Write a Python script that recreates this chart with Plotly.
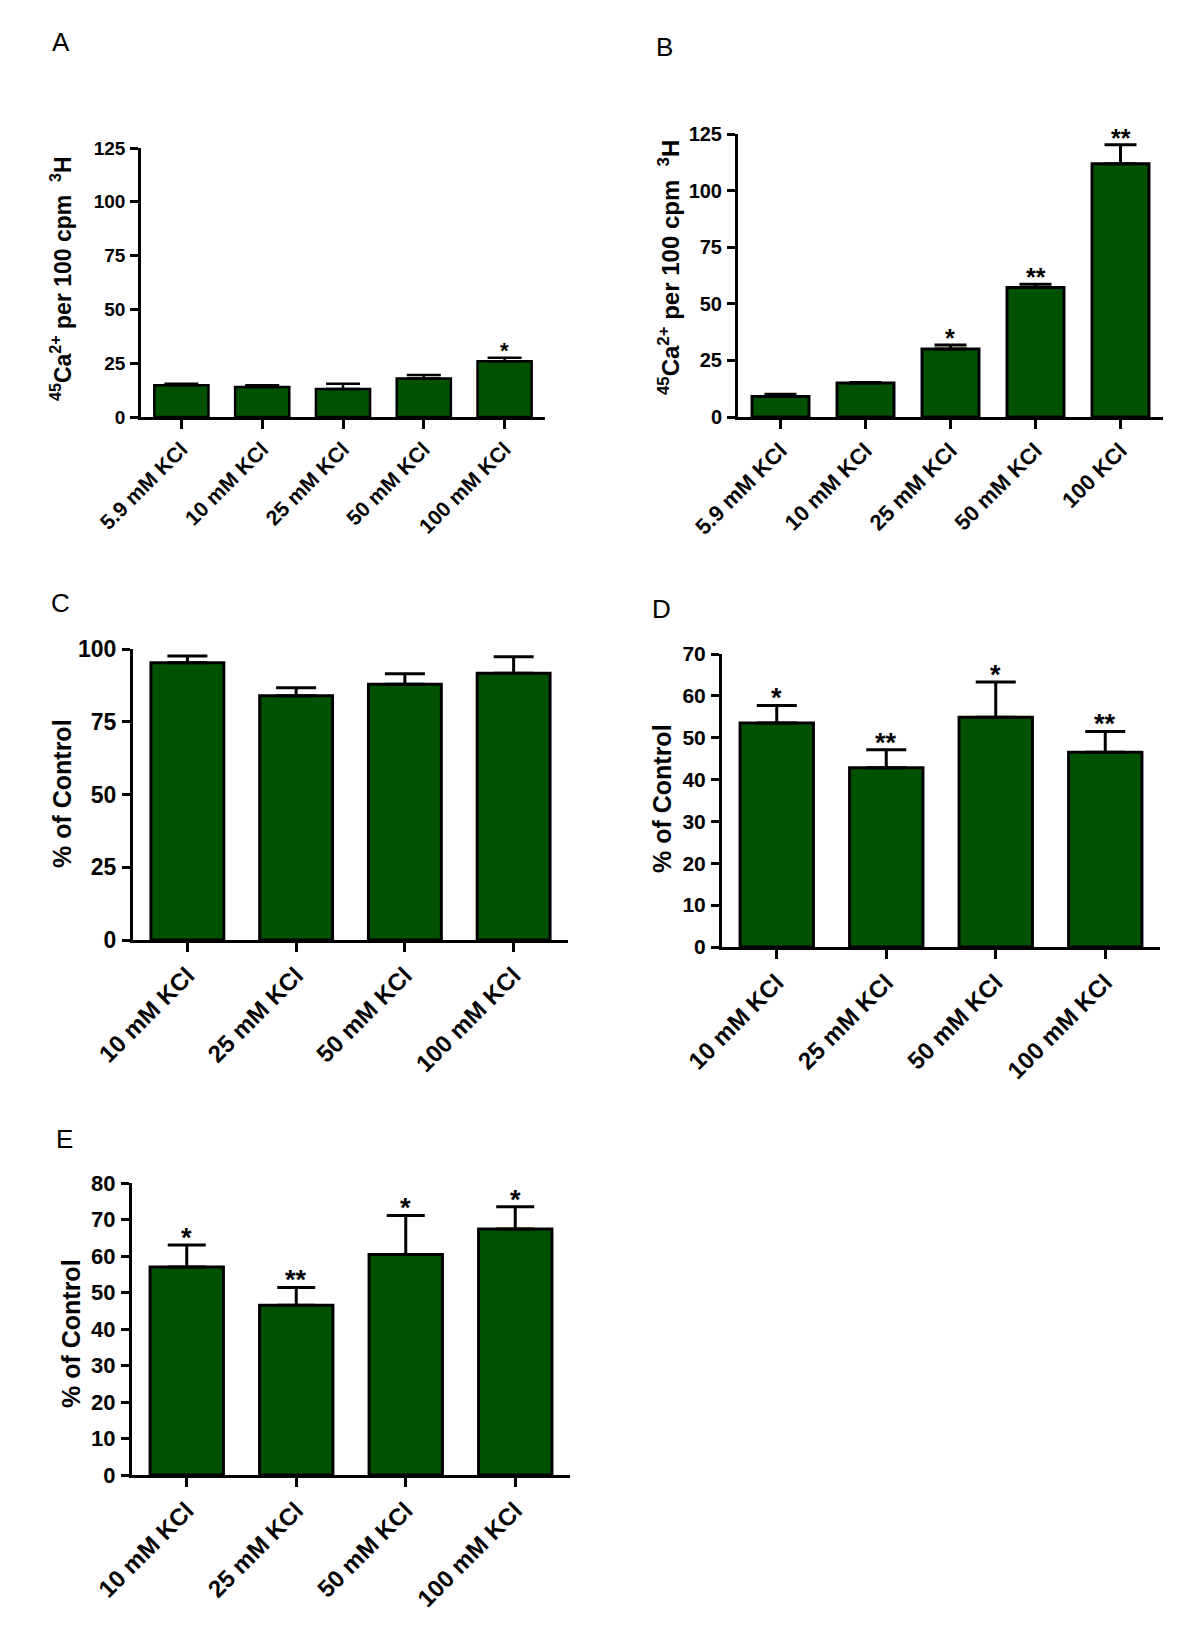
import plotly.graph_objects as go

# ---------------- data ----------------
cats_A = ["5.9 mM KCl", "10 mM KCl", "25 mM KCl", "50 mM KCl", "100 mM KCl"]
mean_A = [14.8, 13.9, 13.0, 17.9, 25.9]
err_A = [0.6, 0.8, 2.4, 1.6, 1.6]
star_A = ["", "", "", "", "*"]

cats_B = ["5.9 mM KCl", "10 mM KCl", "25 mM KCl", "50 mM KCl", "100 KCl"]
mean_B = [9.0, 15.0, 30.0, 57.2, 111.9]
err_B = [1.0, 0.2, 1.8, 1.4, 8.3]
star_B = ["", "", "*", "**", "**"]

cats_CDE = ["10 mM KCl", "25 mM KCl", "50 mM KCl", "100 mM KCl"]
mean_C = [95.3, 83.9, 87.9, 91.7]
err_C = [2.3, 2.8, 3.6, 5.6]
star_C = ["", "", "", ""]

mean_D = [53.5, 42.8, 54.9, 46.5]
err_D = [4.2, 4.3, 8.4, 5.0]
star_D = ["*", "**", "*", "**"]

mean_E = [57.0, 46.5, 60.4, 67.4]
err_E = [6.0, 4.9, 10.7, 6.1]
star_E = ["*", "**", "*", "*"]

ticks_A = [0, 25, 50, 75, 100, 125]
ticks_C = [0, 25, 50, 75, 100]
ticks_D = [0, 10, 20, 30, 40, 50, 60, 70]
ticks_E = [0, 10, 20, 30, 40, 50, 60, 70, 80]

# ---------------- layout helpers ----------------
W, H = 1200, 1637
OFF = 8  # page body margin compensation
FONT = "Liberation Sans, Arial, sans-serif"
GREEN = "rgb(0,82,0)"

def dx(a, b):
    return [(a - OFF) / W, (b - OFF) / W]

def dy(top, bottom):
    return [1 - (bottom - OFF) / H, 1 - (top - OFF) / H]

def px(x):
    return (x - OFF) / W

def py(y):
    return 1 - (y - OFF) / H

TITLE_CA = "<sup>45</sup>Ca<sup>2+</sup> per 100 cpm \u00a0<sup>3</sup>H"

panels = [
    dict(cats=cats_A, mean=mean_A, err=err_A, star=star_A, ticks=ticks_A,
         xd=dx(141, 545), yd=dy(148, 417), tfs=19, xfs=21, lw=2.5, cap=17,
         lab="A", labpos=(61, 42), ytitle=TITLE_CA,
         ytpos=(61, 279), ytfs=23, sfs=22),
    dict(cats=cats_B, mean=mean_B, err=err_B, star=star_B, ticks=ticks_A,
         xd=dx(738, 1163), yd=dy(134, 417), tfs=20, xfs=22, lw=3, cap=16,
         lab="B", labpos=(664, 47), ytitle=TITLE_CA,
         ytpos=(669, 268), ytfs=24, sfs=25),
    dict(cats=cats_CDE, mean=mean_C, err=err_C, star=star_C, ticks=ticks_C,
         xd=dx(133, 568), yd=dy(649, 940), tfs=23, xfs=24, lw=3, cap=20,
         lab="C", labpos=(60, 603),
         ytitle="% of Control", ytpos=(62, 794), ytfs=25, sfs=27),
    dict(cats=cats_CDE, mean=mean_D, err=err_D, star=star_D, ticks=ticks_D,
         xd=dx(722, 1160), yd=dy(654, 947), tfs=21, xfs=24, lw=3, cap=20,
         lab="D", labpos=(661, 609),
         ytitle="% of Control", ytpos=(662, 799), ytfs=25, sfs=27),
    dict(cats=cats_CDE, mean=mean_E, err=err_E, star=star_E, ticks=ticks_E,
         xd=dx(132, 570), yd=dy(1183, 1475), tfs=22, xfs=24, lw=3, cap=19,
         lab="E", labpos=(64, 1139),
         ytitle="% of Control", ytpos=(71, 1334), ytfs=25, sfs=27),
]

fig = go.Figure()
annotations = []
layout = {}

for i, p in enumerate(panels, start=1):
    xa = "x" if i == 1 else f"x{i}"
    ya = "y" if i == 1 else f"y{i}"
    xkey = "xaxis" if i == 1 else f"xaxis{i}"
    ykey = "yaxis" if i == 1 else f"yaxis{i}"
    n = len(p["cats"])
    fig.add_trace(go.Bar(
        x=p["cats"], y=p["mean"], xaxis=xa, yaxis=ya, width=0.67,
        marker=dict(color=GREEN, line=dict(color="black", width=p["lw"])),
        error_y=dict(type="data", symmetric=False, array=p["err"],
                     arrayminus=[0] * n, color="black", thickness=p["lw"],
                     width=p["cap"]),
        showlegend=False, hoverinfo="skip",
    ))
    layout[xkey] = dict(
        domain=p["xd"], anchor=ya, type="category", automargin=False,
        range=[-0.5, n - 0.5], showline=True, linecolor="black",
        linewidth=p["lw"], ticks="outside", ticklen=9, tickwidth=p["lw"],
        tickcolor="black", tickangle=-45, showgrid=False, zeroline=False,
        tickfont=dict(family=FONT, size=p["xfs"], color="black", weight="bold"),
        fixedrange=True,
    )
    layout[ykey] = dict(
        domain=p["yd"], anchor=xa, range=[0, p["ticks"][-1]], automargin=False,
        tickvals=p["ticks"], showline=True, linecolor="black",
        linewidth=p["lw"], ticks="outside", ticklen=8, tickwidth=p["lw"],
        tickcolor="black", showgrid=False, zeroline=False, ticklabelstandoff=1,
        tickfont=dict(family=FONT, size=p["tfs"], color="black", weight="bold"),
        fixedrange=True,
    )
    for c, m, e, s in zip(p["cats"], p["mean"], p["err"], p["star"]):
        if s:
            annotations.append(dict(
                x=c, y=m + e, xref=xa, yref=ya, text=s, showarrow=False,
                yanchor="middle", yshift=7,
                font=dict(family=FONT, size=p["sfs"], color="black", weight="bold"),
            ))
    annotations.append(dict(
        x=px(p["labpos"][0]), y=py(p["labpos"][1]), xref="paper", yref="paper",
        text=p["lab"], showarrow=False, xanchor="center", yanchor="middle",
        font=dict(family=FONT, size=26, color="black"),
    ))
    annotations.append(dict(
        x=px(p["ytpos"][0]), y=py(p["ytpos"][1]), xref="paper", yref="paper",
        text=p["ytitle"], showarrow=False, textangle=-90,
        xanchor="center", yanchor="middle",
        font=dict(family=FONT, size=p["ytfs"], color="black", weight="bold"),
    ))

fig.update_layout(
    template="none",
    width=W, height=H,
    margin=dict(l=0, r=0, t=0, b=0, pad=0, autoexpand=False),
    font=dict(family=FONT, color="black"),
    paper_bgcolor="white", plot_bgcolor="white",
    annotations=annotations, showlegend=False, **layout,
)

fig.write_html("out.html", config={"displayModeBar": False})
